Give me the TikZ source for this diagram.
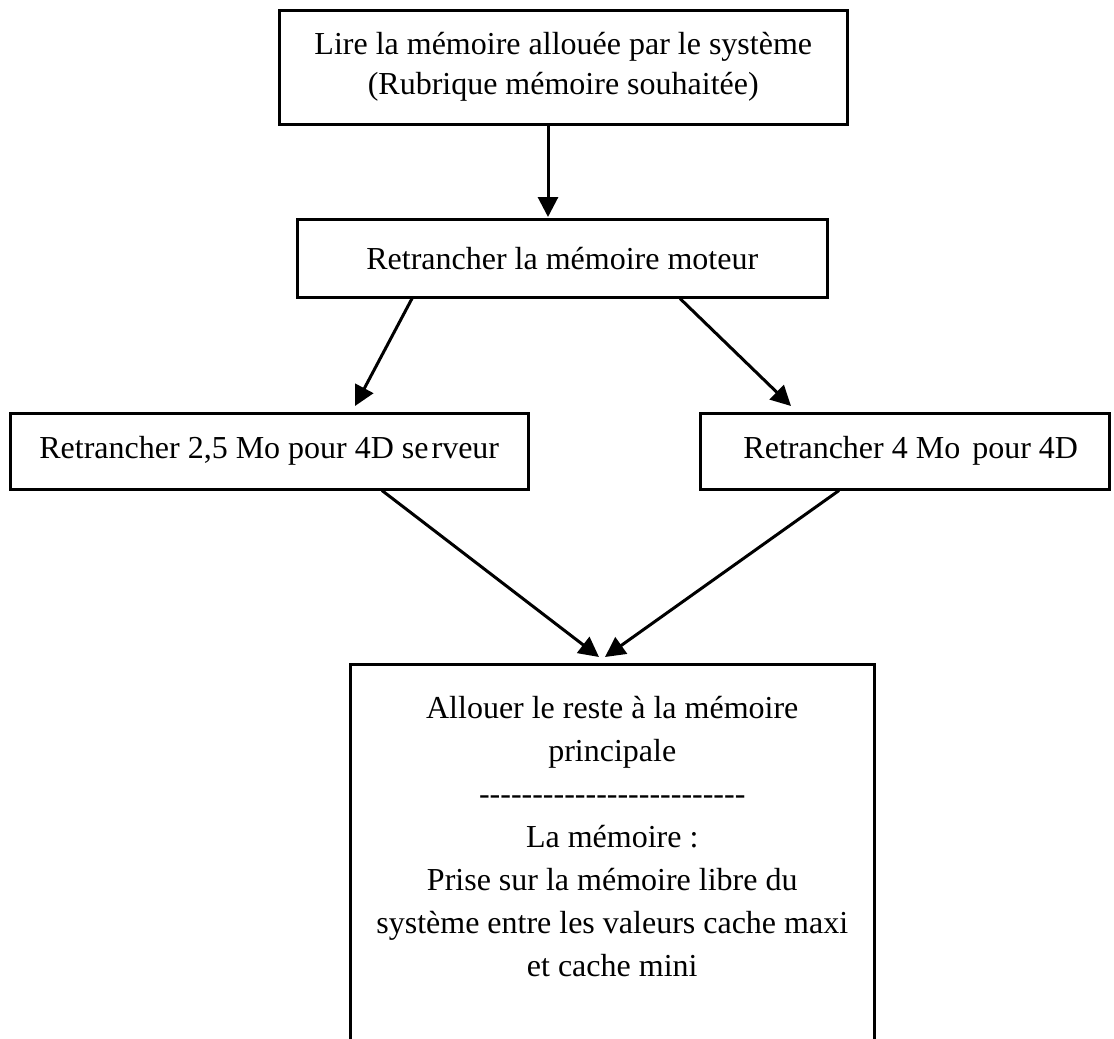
\documentclass[tikz,border=0pt]{standalone}
\usepackage{fontspec}
\setmainfont{Liberation Serif}
\usetikzlibrary{arrows.meta,calc}
\def\hy{-\kern0pt}
\def\hfive{\hy\hy\hy\hy\hy}
\begin{document}
\begin{tikzpicture}[x=1pt,y=-1pt,
  boxstyle/.style={draw, line width=2.5pt, inner sep=0pt, anchor=north west},
  txt/.style={font=\fontsize{32}{40}\selectfont, align=center, inner sep=0pt},
  arr/.style={line width=3pt, -{Triangle[length=20pt,width=20pt]}}]
\useasboundingbox (0,0) rectangle (1114,1039);
\clip (0,0) rectangle (1114,1039);
% boxes
\node[boxstyle, minimum width=568pt, minimum height=114pt] (b1) at (278,9) {};
\node[txt] (t1) at ($(b1.center)+(0,0)$) {Lire la mémoire allouée par le système\\(Rubrique mémoire souhaitée)};
\node[boxstyle, minimum width=530pt, minimum height=78pt] (b2) at (296,218) {};
\node[txt] (t2) at (b2.center) {Retrancher la mémoire moteur};
\node[boxstyle, minimum width=518pt, minimum height=76pt] (b3) at (9,412) {};
\node[txt] (t3) at (b3.center) {Retrancher 2,5 Mo pour 4D se\kern3pt rveur};
\node[boxstyle, minimum width=409pt, minimum height=76pt] (b4) at (699,412) {};
\node[txt] (t4) at ($(b4.center)+(6,0)$) {Retrancher 4 Mo\kern4pt{} pour 4D};
\node[boxstyle, minimum width=524pt, minimum height=420pt] (b5) at (349,663) {};
\node[txt, font=\fontsize{32}{43}\selectfont, anchor=north] (t5) at ($(b5.north)+(0,33)$) {Allouer le reste à la mémoire\\principale\\\hfive\hfive\hfive\hfive\hfive\\La mémoire :\\Prise sur la mémoire libre du\\système entre les valeurs cache maxi\\et cache mini};
% arrows
\draw[arr] ($(b1.south west)+(270,0)$) -- ($(b2.north west)+(252,-1)$);
\coordinate (a1s) at ($(b2.south west)+(116,0)$);
\coordinate (a1e) at ($(b3.north west)+(346,-6)$);
\draw[arr] (a1s) -- (a1e);
\coordinate (a2s) at ($(b2.south west)+(384,0)$);
\coordinate (a2e) at ($(b4.north west)+(92,-6)$);
\draw[arr] (a2s) -- (a2e);
\coordinate (a3s) at ($(b3.south west)+(373,0)$);
\coordinate (a3e) at ($(b5.north west)+(250,-6)$);
\draw[arr] (a3s) -- (a3e);
\coordinate (a4s) at ($(b4.south west)+(140,0)$);
\coordinate (a4e) at ($(b5.north west)+(256,-6)$);
\draw[arr] (a4s) -- (a4e);
\end{tikzpicture}
\end{document}
